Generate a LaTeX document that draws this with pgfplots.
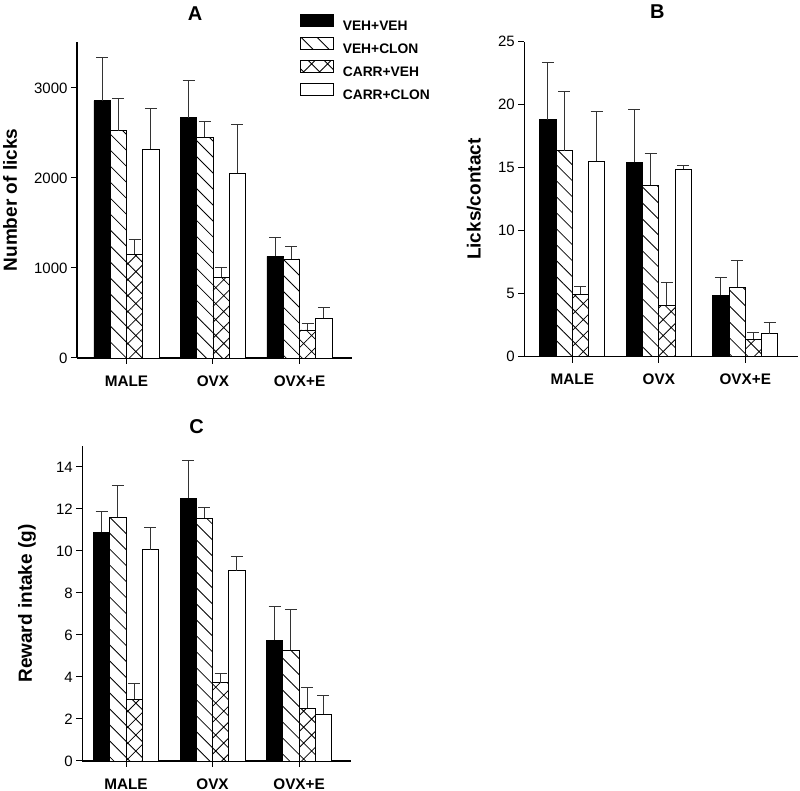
\documentclass[border=0pt]{standalone}
\usepackage{fontspec}
\setmainfont{Liberation Sans}
\usepackage{pgfplots}
\pgfplotsset{compat=1.18}
\usetikzlibrary{patterns.meta}

\pgfplotsset{
  panel/.style={
    scale only axis, anchor=south west,
    ybar=0pt, bar width=16.25pt,
    axis lines=left, axis line style={-, line width=1.1pt, black},
    tick align=outside, major tick length=6pt,
    tick style={line width=1pt, black},
    xtick={0,1,2}, xticklabels={MALE,OVX,OVX+E},
    xticklabel style={font=\bfseries\fontsize{15.3}{16}\selectfont, yshift=-8pt},
    yticklabel style={font=\fontsize{15}{16}\selectfont},
    /pgf/number format/assume math mode=true,
    /pgf/number format/1000 sep={},
    ymin=0,
    ylabel style={font=\bfseries\fontsize{19}{20}\selectfont, anchor=center},
    title style={font=\bfseries\fontsize{20}{21}\selectfont, anchor=center},
    every axis plot/.append style={line width=0.9pt, draw=black},
    error bars/y dir=plus, error bars/y explicit,
    error bars/error bar style={line width=1pt, black!80},
    error bars/error mark options={rotate=90, line width=1pt, black!80, mark size=6pt},
  },
  s1/.style={fill=black},
  s2/.style={fill=white, postaction={pattern={Lines[angle=-45,distance=11.3pt,line width=0.8pt]}}},
  s3/.style={fill=white, postaction={pattern={Hatch[angle=45,distance=11.3pt,line width=0.8pt]}}},
  s4/.style={fill=white},
}

\begin{document}
\begin{tikzpicture}
\path[use as bounding box] (0,0) rectangle (800pt,791pt);

% ---------- Panel A ----------
\begin{axis}[panel,
  at={(77pt,433pt)}, width=275pt, height=316pt,
  xmin=-0.572, xmax=2.607, ymax=3511,
  ytick={0,1000,2000,3000},
  ylabel={Number of licks},
  ylabel style={at={(axis description cs:-0.2436,0.5)}},
  title={A}, title style={at={(axis description cs:0.429,1)}, yshift=22.3pt},
  legend image code/.code={\draw[#1] (0pt,-0.85pt) rectangle (33pt,10.75pt);},
  legend style={at={(axis description cs:0.811,1.0886)}, anchor=north west,
    draw=none, fill=none, inner sep=0pt,
    font=\bfseries\fontsize{13.8}{14}\selectfont,
    nodes={inner sep=0pt, text height=10pt, text depth=0pt},
    row sep=6.8pt, column sep=8.7pt},
  legend cell align=left,
]
\addplot[s1] coordinates {(0,2860) +- (0,475) (1,2670) +- (0,410) (2,1130) +- (0,210)};
\addplot[s2] coordinates {(0,2525) +- (0,360) (1,2450) +- (0,175) (2,1100) +- (0,137)};
\addplot[s3] coordinates {(0,1155) +- (0,163) (1,897) +- (0,103) (2,311) +- (0,74)};
\addplot[s4] coordinates {(0,2320) +- (0,450) (1,2052) +- (0,541) (2,441) +- (0,122)};
\legend{VEH+VEH,VEH+CLON,CARR+VEH,CARR+CLON}
\end{axis}

% ---------- Panel B ----------
\begin{axis}[panel,
  at={(524.3pt,434.3pt)}, width=273.7pt, height=315pt,
  xmin=-0.556, xmax=2.61, ymax=25,
  ytick={0,5,10,15,20,25},
  ylabel={Licks/contact},
  ylabel style={at={(axis description cs:-0.184,0.5)}},
  title={B}, title style={at={(axis description cs:0.486,1)}, yshift=24pt},
]
\addplot[s1] coordinates {(0,18.79) +- (0,4.54) (1,15.43) +- (0,4.2) (2,4.87) +- (0,1.43)};
\addplot[s2] coordinates {(0,16.35) +- (0,4.68) (1,13.6) +- (0,2.54) (2,5.5) +- (0,2.1)};
\addplot[s3] coordinates {(0,4.95) +- (0,0.66) (1,4.08) +- (0,1.79) (2,1.4) +- (0,0.54)};
\addplot[s4] coordinates {(0,15.5) +- (0,3.94) (1,14.87) +- (0,0.34) (2,1.83) +- (0,0.87)};
\end{axis}

% ---------- Panel C ----------
\begin{axis}[panel,
  at={(82.3pt,30pt)}, width=268.7pt, height=315pt,
  xmin=-0.505, xmax=2.60, ymax=15,
  ytick={0,2,4,6,8,10,12,14},
  ylabel={Reward intake (g)},
  ylabel style={at={(axis description cs:-0.206,0.5)}},
  title={C}, title style={at={(axis description cs:0.425,1)}, yshift=13.3pt},
]
\addplot[s1] coordinates {(0,10.89) +- (0,0.98) (1,12.51) +- (0,1.81) (2,5.75) +- (0,1.6)};
\addplot[s2] coordinates {(0,11.6) +- (0,1.5) (1,11.57) +- (0,0.48) (2,5.27) +- (0,1.95)};
\addplot[s3] coordinates {(0,2.94) +- (0,0.74) (1,3.73) +- (0,0.45) (2,2.52) +- (0,1.0)};
\addplot[s4] coordinates {(0,10.06) +- (0,1.08) (1,9.06) +- (0,0.7) (2,2.24) +- (0,0.86)};
\end{axis}
\end{tikzpicture}
\end{document}
